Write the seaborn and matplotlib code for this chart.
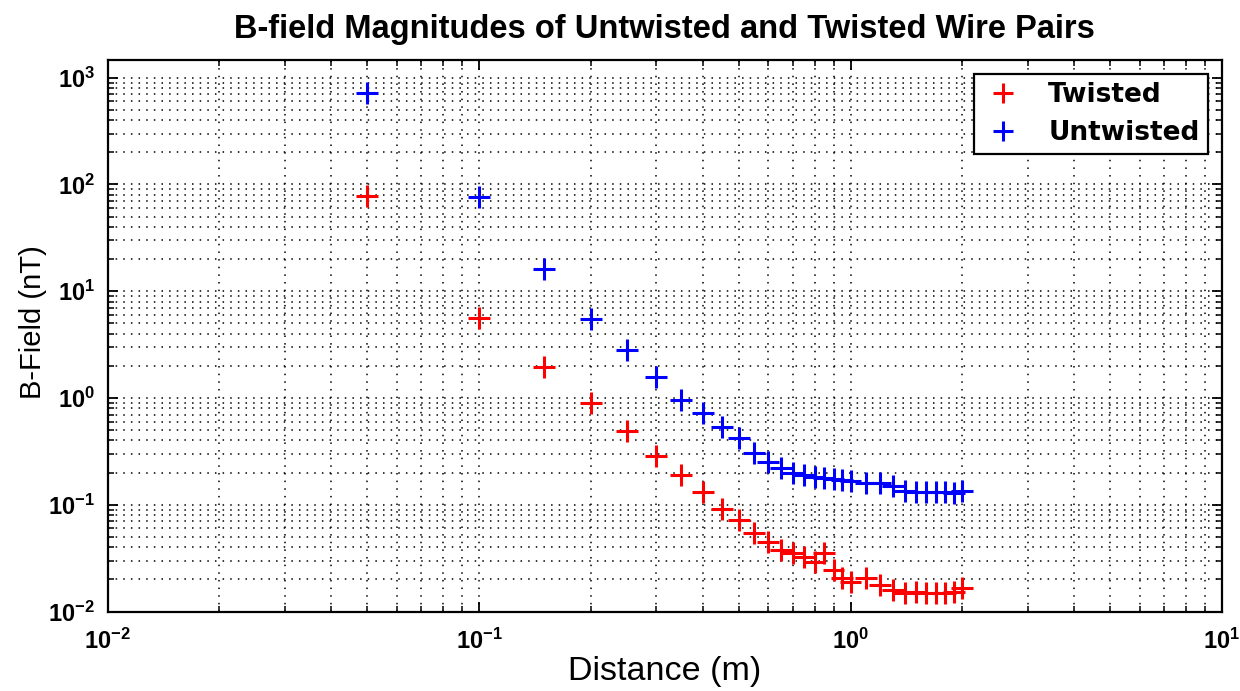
import numpy as np
import pandas as pd
import seaborn as sns
import matplotlib
matplotlib.use("Agg")
import matplotlib.pyplot as plt
from matplotlib.ticker import LogLocator, NullFormatter

# Distance from the wire pair (m)
distance_m = [0.05, 0.10, 0.15, 0.20, 0.25, 0.30, 0.35, 0.40, 0.45, 0.50,
              0.55, 0.60, 0.65, 0.70, 0.75, 0.80, 0.85, 0.90, 0.95, 1.00,
              1.10, 1.20, 1.30, 1.40, 1.50, 1.60, 1.70, 1.80, 1.90, 2.00]

# Measured field magnitudes (nT)
twisted_nT = [78.5, 5.57, 1.96, 0.891, 0.491, 0.286, 0.190, 0.132, 0.0912, 0.0720,
              0.0540, 0.0451, 0.0377, 0.0351, 0.0326, 0.0293, 0.0351, 0.0245, 0.0205, 0.0190,
              0.0205, 0.0177, 0.0159, 0.0150, 0.0153, 0.0148, 0.0148, 0.0148, 0.0153, 0.0165]

untwisted_nT = [724.0, 75.8, 16.0, 5.46, 2.81, 1.58, 0.957, 0.728, 0.538, 0.419,
                0.303, 0.253, 0.219, 0.198, 0.190, 0.182, 0.178, 0.173, 0.171, 0.167,
                0.160, 0.160, 0.150, 0.134, 0.133, 0.133, 0.133, 0.133, 0.130, 0.135]

series_names = ["Twisted", "Untwisted"]
series_colors = {"Twisted": "#ff0000", "Untwisted": "#0000ff"}

df = pd.concat([
    pd.DataFrame({"Distance": distance_m, "B": twisted_nT, "Series": "Twisted"}),
    pd.DataFrame({"Distance": distance_m, "B": untwisted_nT, "Series": "Untwisted"}),
], ignore_index=True)

sns.set_style("white")
plt.rcParams["font.family"] = ["Liberation Sans", "DejaVu Sans"]
plt.rcParams["axes.unicode_minus"] = False
for key in ["text.color", "axes.labelcolor", "xtick.color", "ytick.color", "axes.edgecolor"]:
    plt.rcParams[key] = "black"

fig = plt.figure(figsize=(12.4, 6.91), dpi=100)
ax = fig.add_axes([0.0867, 0.115, 0.8988, 0.7982])

sns.scatterplot(data=df, x="Distance", y="B", hue="Series", hue_order=series_names,
                palette=series_colors, marker="+", s=250, linewidth=2.2, ax=ax,
                legend=False, zorder=3)

ax.set_xscale("log")
ax.set_yscale("log")
ax.set_xlim(1e-2, 1e1)
ax.set_ylim(1e-2, 1.466e3)

ax.xaxis.set_major_locator(LogLocator(base=10, numticks=10))
ax.yaxis.set_major_locator(LogLocator(base=10, numticks=10))
ax.xaxis.set_minor_locator(LogLocator(base=10, subs=np.arange(2, 10), numticks=40))
ax.yaxis.set_minor_locator(LogLocator(base=10, subs=np.arange(2, 10), numticks=40))
ax.xaxis.set_minor_formatter(NullFormatter())
ax.yaxis.set_minor_formatter(NullFormatter())

dotted = (0, (1.0, 4.0))
ax.grid(True, which="major", linestyle=dotted, color="black", linewidth=1.1)
ax.grid(True, which="minor", linestyle=dotted, color="black", linewidth=1.1)
ax.set_axisbelow(True)

for sp in ax.spines.values():
    sp.set_visible(True)
    sp.set_color("black")
    sp.set_linewidth(1.6)

ax.tick_params(which="both", direction="in", top=True, right=True,
               bottom=True, left=True, colors="black", labelsize=17)
ax.tick_params(which="major", length=7, width=1.3)
ax.tick_params(axis="x", which="major", pad=12)
ax.tick_params(axis="y", which="major", pad=9)
ax.tick_params(which="minor", length=4, width=1.1)
for lbl in ax.get_xticklabels() + ax.get_yticklabels():
    lbl.set_fontweight("bold")

ax.set_title("B-field Magnitudes of Untwisted and Twisted Wire Pairs",
             fontsize=23.5, fontweight="bold", pad=16)
ax.set_xlabel("Distance (m)", fontsize=24.5, labelpad=2)
ax.set_ylabel("B-Field (nT)", fontsize=21)
ax.yaxis.set_label_coords(-0.054, 0.525)

handles = [plt.Line2D([], [], linestyle="none", marker="+", markersize=15,
                      markeredgewidth=2.2, color=series_colors[n]) for n in series_names]
leg = ax.legend(handles, series_names, loc="upper right", frameon=True, fancybox=False,
                edgecolor="black", framealpha=1.0, borderpad=0.3, handlelength=1.6,
                handletextpad=0.9, labelspacing=0.45, borderaxespad=0.55,
                prop={"family": "DejaVu Sans", "weight": "bold", "size": 19})
leg.get_frame().set_linewidth(1.6)

fig.savefig("out.png", dpi=100, facecolor="white")
